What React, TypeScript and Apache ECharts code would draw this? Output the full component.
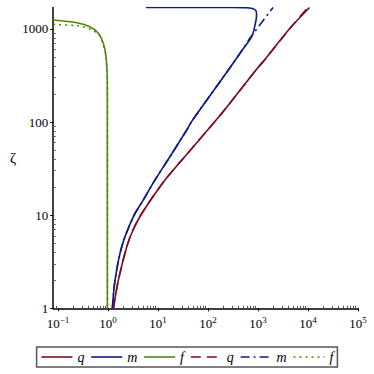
import React, { useEffect, useRef } from "react";
import * as echarts from "echarts";

// x values (q, m, f) and ζ values
const qSolidX = [1.28, 1.61, 2.37, 3.16, 4.57, 7.59, 13.8, 30, 141, 241, 912, 1349, 4365, 10700];
const qSolidZ = [1, 2.01, 4.59, 6.93, 10.1, 15.3, 23.9, 39.1, 103, 146, 362, 464, 1015, 1700];
const qApproxX = [1.28, 1.61, 2.37, 3.16, 4.57, 7.59, 13.8, 30, 141, 241, 912, 1349, 4365, 9770];
const qApproxZ = [1, 2.01, 4.59, 6.93, 10.1, 15.3, 23.9, 39.1, 103, 146, 362, 464, 1015, 1680];

const mSolidX = [1.22, 1.38, 1.88, 3.21, 5.08, 8.71, 18.2, 37.5, 47.9, 255, 485, 748, 871, 925, 935, 850, 600, 300, 5.75];
const mSolidZ = [1, 2.01, 4.59, 9.63, 14.6, 23.9, 44.3, 82.2, 103, 362, 594, 825, 1102, 1300, 1472, 1620, 1690, 1700, 1700];
const mApproxX = [1.22, 1.38, 1.88, 3.21, 5.08, 8.71, 18.2, 37.5, 47.9, 255, 485, 692, 2000];
const mApproxZ = [1, 2.01, 4.59, 9.63, 14.6, 23.9, 44.3, 82.2, 103, 362, 594, 798, 1700];

const fSolidX = [0.08, 0.237, 0.437, 0.64, 0.805, 0.912, 0.968, 0.97, 0.97];
const fSolidZ = [1247, 1166, 1056, 897, 700, 503, 261, 50, 1];
const fApproxX = [0.08, 0.237, 0.347, 0.508, 0.692, 0.794, 0.912, 0.968, 0.97, 0.97];
const fApproxZ = [1120, 1082, 1041, 957, 839, 689, 500, 261, 50, 1];

const xDecades = [-1, 0, 1, 2, 3, 4, 5];
const yDecades = [0, 1, 2, 3];
const xMinValue = 0.08;
const xMaxValue = 1e5;
const yMinValue = 1;
const yMaxValue = 1700;

const seriesNames = ["q", "m", "f", "q ", "m ", "f "];
const seriesColors = ["#7d0c1e", "#0c1a8a", "#4e8a0c", "#7d0c1e", "#0c1a8a", "#4e8a0c"];
const seriesDash: any[] = ["solid", "solid", "solid", [10, 6], [9, 4, 2, 4], [2, 4]];

const serif = "Liberation Serif";

function toLog(xs: number[], zs: number[]) {
  return xs.map((x, i) => [Math.log10(x), Math.log10(zs[i])]);
}

function minorTicks(lo: number, hi: number) {
  const out: number[] = [];
  for (let d = Math.floor(lo); d <= Math.ceil(hi); d++) {
    for (let k = 2; k <= 9; k++) {
      const v = d + Math.log10(k);
      if (v > lo && v < hi) out.push(v);
    }
  }
  return out;
}

export default function App() {
  const ref = useRef<HTMLDivElement>(null);
  useEffect(() => {
    if (!ref.current) return;
    const chart = echarts.init(ref.current, undefined, { renderer: "svg" });
    const xMin = Math.log10(xMinValue);
    const xMax = Math.log10(xMaxValue);
    const yMin = Math.log10(yMinValue);
    const yMax = Math.log10(yMaxValue);
    const datas = [
      toLog(qSolidX, qSolidZ),
      toLog(mSolidX, mSolidZ),
      toLog(fSolidX, fSolidZ),
      toLog(qApproxX, qApproxZ),
      toLog(mApproxX, mApproxZ),
      toLog(fApproxX, fApproxZ),
    ];
    const drawOrder = [3, 4, 5, 0, 1, 2];
    const series = drawOrder.map((i) => ({
      name: seriesNames[i],
      type: "line",
      data: datas[i],
      showSymbol: false,
      symbol: "none",
      smooth: 0.3,
      clip: true,
      color: seriesColors[i],
      lineStyle: { color: seriesColors[i], width: 1.6, type: seriesDash[i] },
      z: i < 3 ? 3 : 2,
    }));
    const option: any = {
      animation: false,
      backgroundColor: "#fff",
      grid: { left: 53.2, right: 16, top: 7.45, bottom: 65.7, containLabel: false },
      legend: {
        data: seriesNames.map((n, i) => ({
          name: n,
          itemStyle: { opacity: 0 },
          lineStyle: { color: seriesColors[i], width: 1.6, type: seriesDash[i] },
        })),
        formatter: (n: string) => n.trim(),
        left: "center",
        top: 347,
        orient: "horizontal",
        itemWidth: 31,
        itemHeight: 13,
        itemGap: 6,
        padding: [3, 4, 3, 4],
        borderColor: "#555",
        borderWidth: 1.5,
        borderRadius: 0,
        itemStyle: { opacity: 0 },
        textStyle: { fontFamily: serif, fontStyle: "italic", fontSize: 14, color: "#000" },
      },
      xAxis: [
        {
          type: "value",
          min: xMin,
          max: xMax,
          position: "bottom",
          axisLine: { show: true, onZero: false, lineStyle: { color: "#000", width: 1.5 } },
          axisTick: { show: true, inside: false, length: 3, customValues: xDecades, lineStyle: { color: "#000" } },
          axisLabel: {
            customValues: xDecades,
            margin: 7,
            fontFamily: serif,
            formatter: (v: number) => {
              const e = Math.round(v);
              return `{b|10}{s|${e < 0 ? "\u2212" : ""}${Math.abs(e)}}`;
            },
            rich: {
              b: { fontFamily: serif, fontSize: 13, color: "#000" },
              s: { fontFamily: serif, fontSize: 9, color: "#000", verticalAlign: "bottom", padding: [0, 0, 7, 0] },
            },
          },
          splitLine: { show: false },
        },
        {
          type: "value",
          min: xMin,
          max: xMax,
          position: "bottom",
          offset: 0,
          axisLine: { show: false, onZero: false },
          axisTick: { show: true, inside: true, length: 2.5, customValues: minorTicks(xMin, xMax), lineStyle: { color: "#555" } },
          axisLabel: { show: false },
          splitLine: { show: false },
        },
      ],
      yAxis: [
        {
          type: "value",
          min: yMin,
          max: yMax,
          position: "left",
          name: "ζ",
          nameLocation: "middle",
          nameGap: 36,
          nameRotate: 0,
          nameTextStyle: { fontFamily: serif, fontSize: 15, color: "#000" },
          axisLine: { show: true, onZero: false, lineStyle: { color: "#000", width: 1.5 } },
          axisTick: { show: true, inside: false, length: 3, customValues: yDecades, lineStyle: { color: "#000" } },
          axisLabel: {
            customValues: yDecades,
            margin: 5,
            fontFamily: serif,
            fontSize: 13,
            color: "#000",
            formatter: (v: number) => String(Math.round(Math.pow(10, Math.round(v)))),
          },
          splitLine: { show: false },
        },
        {
          type: "value",
          min: yMin,
          max: yMax,
          position: "left",
          offset: 0,
          axisLine: { show: false, onZero: false },
          axisTick: { show: true, inside: true, length: 2.5, customValues: minorTicks(yMin, yMax), lineStyle: { color: "#555" } },
          axisLabel: { show: false },
          splitLine: { show: false },
        },
      ],
      series,
    };
    chart.setOption(option);
    return () => chart.dispose();
  }, []);
  return <div ref={ref} style={{ width: 374, height: 374, position: "absolute", left: 0, top: 0 }} />;
}
